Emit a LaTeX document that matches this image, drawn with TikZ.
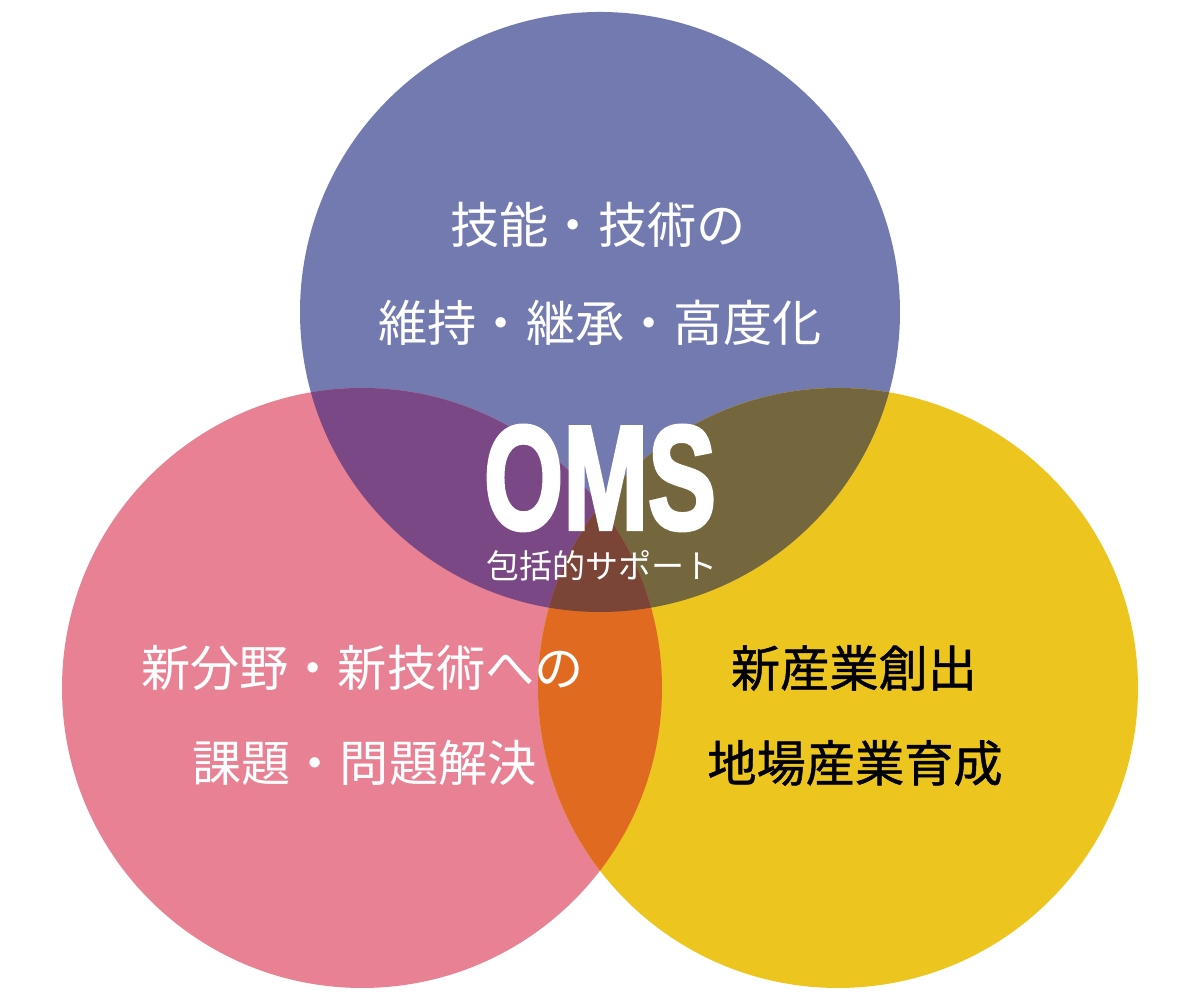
\documentclass[tikz,border=0pt]{standalone}
\usepackage{fontspec}
\usepackage{tikz}
\newfontfamily\jpfont{Noto Sans CJK JP}
\newfontfamily\jpdarkfont{Noto Sans CJK JP}[FakeBold=1]
\newfontfamily\omsfont{Liberation Sans}[BoldFeatures={FakeBold=3}]
\definecolor{topblue}{HTML}{737AB0}
\definecolor{leftpink}{HTML}{E88194}
\definecolor{rightyellow}{HTML}{ECC51E}
\definecolor{tlpurple}{HTML}{7A4885}
\definecolor{trolive}{HTML}{75673D}
\definecolor{lrorange}{HTML}{E06B20}
\definecolor{midbrown}{HTML}{7A4537}

\begin{document}
\begin{tikzpicture}[inner sep=0pt,
        lightlabel/.style={text=white,font=\jpfont\fontsize{14}{14}\selectfont},
        darklabel/.style={text=black,font=\jpdarkfont\fontsize{14}{14}\selectfont}]
        \useasboundingbox (0,0) rectangle (12,10);
        \coordinate (ctop) at (6,6.88);
        \coordinate (cleft) at (3.62,3.12);
        \coordinate (cright) at (8.38,3.12);

        \fill[topblue] (ctop) circle (3);
        \fill[leftpink] (cleft) circle (3);
        \fill[rightyellow] (cright) circle (3);
        \begin{scope}
            \clip (ctop) circle (3);
            \fill[tlpurple] (cleft) circle (3);
            \fill[trolive] (cright) circle (3);
        \end{scope}
        \begin{scope}
            \clip (cleft) circle (3);
            \fill[lrorange] (cright) circle (3);
            \clip (ctop) circle (3);
            \fill[midbrown] (cright) circle (3);
        \end{scope}

        \node[lightlabel] (t1) at (5.98,7.75) {技能・技術の};
        \node[lightlabel] (t2) at (6.0,6.77) {維持・継承・高度化};
        \node[lightlabel] (l1) at (3.625,3.32) {新分野・新技術への};
        \node[lightlabel] (l2) at (3.645,2.37) {課題・問題解決};
        \node[darklabel] (r1) at (8.54,3.32) {新産業創出};
        \node[darklabel] (r2) at (8.55,2.37) {地場産業育成};

        \node[text=white,font=\omsfont\bfseries\fontsize{42}{42}\selectfont] (oms) at (6.0,5.22) {\scalebox{0.69}[1]{OMS}};
        \node[text=white,font=\jpfont\fontsize{9.4}{9.4}\selectfont] (sub) at (6.02,4.34) {包括的サポート};
    \end{tikzpicture}
\end{document}
